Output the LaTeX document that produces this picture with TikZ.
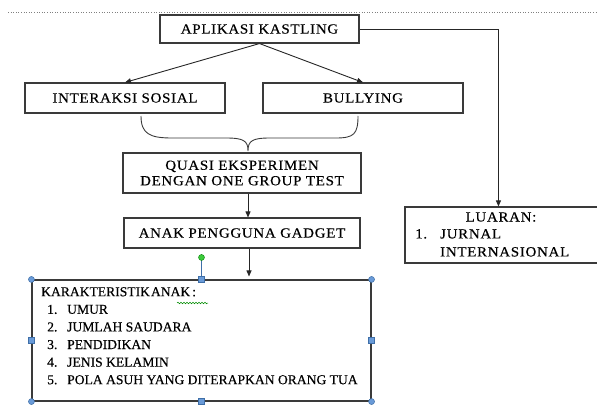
\documentclass[tikz,border=0pt]{standalone}
\usepackage{fontspec}
\setmainfont{Liberation Serif}
\usetikzlibrary{calc,arrows.meta,decorations.pathmorphing}
\definecolor{garisabu}{HTML}{3A3A3A}
\definecolor{birupegang}{HTML}{6A9BD8}
\definecolor{birutepi}{HTML}{3F6FA8}
\definecolor{hijaupegang}{HTML}{3CCB3C}
\tikzset{
    kotak/.style={draw=garisabu,line width=1.1pt,inner sep=0pt,text=black,
        font=\fontsize{14}{15.5}\selectfont\addfontfeature{LetterSpace=5,FakeStretch=1.07,FakeBold=0.4},align=center},
    tulisan/.style={inner sep=0pt,text=black,font=\fontsize{13.6}{17.6}\selectfont\addfontfeature{FakeBold=0.4},align=left},
    panah/.style={draw=black!85,line width=0.9pt,-{Triangle[length=6pt,width=5pt]}},
    bulat/.style={circle,draw=birutepi,fill=birupegang,line width=0.5pt,minimum size=6pt,inner sep=0pt},
    persegi/.style={rectangle,draw=birutepi,fill=birupegang,line width=0.5pt,minimum size=6pt,inner sep=0pt}
}
\begin{document}
\begin{tikzpicture}[x=1pt,y=-1pt]
    \useasboundingbox (0,0) rectangle (597,406);
    \draw[gray,dotted,line width=0.6pt] (8,12) -- (597,12);
    \node[kotak,minimum width=199pt,minimum height=28pt] (apl) at (259.5,29) {APLIKASI KASTLING};
    \node[kotak,minimum width=200pt,minimum height=30pt] (inter) at (125,98) {INTERAKSI SOSIAL};
    \node[kotak,minimum width=200pt,minimum height=30pt] (bully) at (363,98) {BULLYING};
    \node[kotak,minimum width=238pt,minimum height=40pt] (quasi) at (242,173)
        {QUASI EKSPERIMEN\\DENGAN ONE GROUP TEST};
    \node[kotak,minimum width=236pt,minimum height=30pt] (anak) at (242,233) {ANAK PENGGUNA\ GADGET};
    \node[kotak,minimum width=339pt,minimum height=121pt] (kar) at (201.5,340.5) {};
    \node[kotak,minimum width=194pt,minimum height=56pt] (luar) at (502,235) {};
    \node[tulisan] (karteks) at (41,287) [anchor=north west]
        {KARAKTERISTIK\hspace{1pt}ANAK\hspace{2pt}:\\
        \hspace*{6pt}\makebox[20pt][l]{1.}UMUR\\
        \hspace*{6pt}\makebox[20pt][l]{2.}JUMLAH SAUDARA\\
        \hspace*{6pt}\makebox[20pt][l]{3.}PENDIDIKAN\\
        \hspace*{6pt}\makebox[20pt][l]{4.}JENIS KELAMIN\\
        \hspace*{6pt}\makebox[20pt][l]{5.}POLA ASUH YANG DITERAPKAN ORANG TUA};
    \node[tulisan,font=\fontsize{14}{18}\selectfont\addfontfeature{LetterSpace=5,FakeStretch=1.07,FakeBold=0.4}] (luarjudul) at (501,217) {LUARAN:};
    \node[tulisan,font=\fontsize{14}{18}\selectfont\addfontfeature{LetterSpace=5,FakeStretch=1.07,FakeBold=0.4}] (luarisi) at (415,229) [anchor=north west]
        {\makebox[25pt][l]{1.}JURNAL\\\hspace*{25pt}INTERNASIONAL};
    \draw[panah] (apl.south) -- (inter.north);
    \draw[panah] (apl.south) -- (bully.north);
    \draw[panah] (apl.east) -| ($(luar.north west)+(94,0)$);
    \draw[garisabu,line width=0.9pt] (141,116) .. controls (141,134) and (150,138) .. (172,138)
        -- (226,138) .. controls (244,138) and (248,141) .. (248,151)
        .. controls (248,141) and (252,138) .. (270,138) -- (336,138)
        .. controls (354,138) and (358,134) .. (358,116);
    \draw[panah] ($(quasi.south)+(6,0)$) -- ($(anak.north)+(6,0)$);
    \draw[panah] ($(anak.south)+(7,0)$) -- ($(kar.north)+(47.5,-3)$);
    \draw[green!55!black,line width=0.5pt,decorate,
        decoration={snake,amplitude=0.8pt,segment length=3pt}] (177,303) -- (208,303);
    \draw[birutepi,line width=0.6pt] (kar.north) -- ($(kar.north)+(0,-22)$) coordinate (putar);
    \node[circle,draw=green!50!black,fill=hijaupegang,minimum size=6pt,inner sep=0pt] (putarbulat) at (putar) {};
    \foreach \a in {north west,north east,south west,south east}
        \node[bulat] at (kar.\a) {};
    \foreach \a in {north,south,west,east}
        \node[persegi] at (kar.\a) {};
\end{tikzpicture}
\end{document}
